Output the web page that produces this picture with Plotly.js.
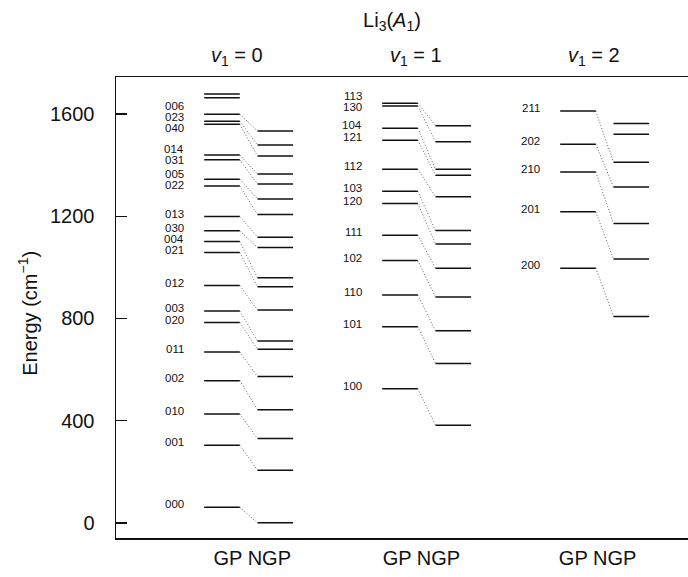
<!DOCTYPE html>
<html>
<head>
<meta charset="utf-8">
<script src="https://cdn.plot.ly/plotly-3.0.1.min.js"></script>
<style>html,body{margin:0;padding:0;background:#fff;}#chart{width:688px;height:577px;}</style>
</head>
<body>
<div id="chart"></div>
<script>
// ---- data (energies in cm^-1) ----
const groupNames = ['<i>v</i><sub>1</sub> = 0', '<i>v</i><sub>1</sub> = 1', '<i>v</i><sub>1</sub> = 2'];
const columnNames = ['GP', 'NGP'];

const gpV0 = [61, 303.5, 426, 556.5, 669, 784.5, 829, 929, 1058, 1101, 1143, 1199, 1319, 1345, 1421, 1440, 1560, 1572, 1600, 1664, 1679];
const ngpV0 = [0, 206, 330, 443, 573, 680, 712, 833, 924, 959, 1078, 1118.5, 1207, 1268, 1326.5, 1366, 1436, 1479, 1534];
const labelsV0 = ['000','001','010','002','011','020','003','012','021','004','030','013','022','005','031','014','040','023','006'];

const gpV1 = [525, 768, 892, 1027, 1126, 1250, 1298, 1384, 1498, 1545, 1632, 1642.5];
const ngpV1 = [382, 624, 752, 884, 997, 1092, 1144, 1277, 1361, 1384, 1492, 1555];
const labelsV1 = ['100','101','110','102','111','120','103','112','121','104','130','113'];

const gpV2 = [997, 1217.5, 1373, 1482, 1612];
const ngpV2 = [808, 1032.5, 1172, 1315, 1412, 1521, 1563];
const labelsV2 = ['200','201','210','202','211'];

const yTicks = [0, 400, 800, 1200, 1600];

// ---- build ----
const groups = [
  {gp: gpV0, ngp: ngpV0, labels: labelsV0},
  {gp: gpV1, ngp: ngpV1, labels: labelsV1},
  {gp: gpV2, ngp: ngpV2, labels: labelsV2}
];
const NGP_OFF = 0.2994, HALF = 0.1;
const FONT = 'Liberation Sans, Arial, Helvetica, sans-serif';

const traces = [];
const annotations = [];

function spreadLabels(ys, minGap) {
  const out = ys.slice();
  for (let it = 0; it < 300; it++) {
    let moved = false;
    for (let i = 0; i < out.length - 1; i++) {
      const gap = out[i + 1] - out[i];
      if (gap < minGap - 1e-6) {
        const d = (minGap - gap) / 2;
        out[i] -= d; out[i + 1] += d; moved = true;
      }
    }
    if (!moved) break;
  }
  return out;
}

groups.forEach((g, gi) => {
  const gx = gi, nx = gi + NGP_OFF;
  const n = Math.min(g.gp.length, g.ngp.length);
  const cx = [], cy = [];
  for (let i = 0; i < n; i++) {
    cx.push(gx + HALF, nx - HALF, null);
    cy.push(g.gp[i], g.ngp[i], null);
  }
  traces.push({x: cx, y: cy, mode: 'lines', type: 'scatter', hoverinfo: 'skip',
    line: {color: '#666', width: 1, dash: '1px,2px'}, showlegend: false});
  const gxs = [], gys = [];
  g.gp.forEach(e => { gxs.push(gx - HALF, gx + HALF, null); gys.push(e, e, null); });
  traces.push({x: gxs, y: gys, mode: 'lines', type: 'scatter', name: 'GP',
    line: {color: '#111', width: 1.5}, showlegend: false});
  const nxs = [], nys = [];
  g.ngp.forEach(e => { nxs.push(nx - HALF, nx + HALF, null); nys.push(e, e, null); });
  traces.push({x: nxs, y: nys, mode: 'lines', type: 'scatter', name: 'NGP',
    line: {color: '#111', width: 1.5}, showlegend: false});
  const targets = g.labels.map((l, i) => g.gp[i] + 11.5);
  const placed = spreadLabels(targets, 42);
  g.labels.forEach((l, i) => {
    annotations.push({x: gx - HALF, y: placed[i], xref: 'x', yref: 'y', text: l,
      showarrow: false, xanchor: 'right', yanchor: 'middle', xshift: -18,
      font: {family: FONT, size: 11.5, color: '#111'}});
  });
});

const headX = [0.084, 1.09, 2.09];
groupNames.forEach((t, i) => {
  annotations.push({x: headX[i], y: 1.044, xref: 'x', yref: 'paper', text: t,
    showarrow: false, xanchor: 'center', yanchor: 'middle',
    font: {family: FONT, size: 20, color: '#111'}});
});

annotations.push({x: -0.1538, y: 0.4865, xref: 'paper', yref: 'paper',
  text: 'Energy (cm<sup>−1</sup>)', textangle: -90, showarrow: false,
  xanchor: 'center', yanchor: 'middle', font: {family: FONT, size: 20, color: '#111'}});

const layout = {
  width: 688, height: 577,
  margin: {l: 116, r: 0, t: 77, b: 38.5, pad: 0},
  paper_bgcolor: '#fff', plot_bgcolor: '#fff',
  font: {family: FONT, color: '#111'},
  title: {text: 'Li<sub>3</sub>(<i>A</i><sub>1</sub>)', x: 392 / 688, xanchor: 'center',
    y: 1 - 20 / 577, yanchor: 'middle', font: {family: FONT, size: 20, color: '#111'}},
  xaxis: {range: [-0.5955, 2.618], showgrid: false, zeroline: false,
    showline: true, mirror: true, linecolor: '#111', linewidth: 1.5,
    tickvals: [0.17, 1.12, 2.11], ticktext: [0,1,2].map(() => columnNames.join(' ')),
    ticks: '', tickfont: {family: FONT, size: 20, color: '#111'}, ticklabelstandoff: 1,
    fixedrange: true},
  yaxis: {range: [-59.4, 1745.4], showgrid: false, zeroline: false,
    showline: true, mirror: false, linecolor: '#111', linewidth: 1.5,
    tickvals: yTicks, ticktext: yTicks.map(String), ticks: 'inside', ticklen: 11,
    tickcolor: '#111', tickwidth: 1.5, ticklabelstandoff: 16,
    tickfont: {family: FONT, size: 20, color: '#111'},
    fixedrange: true},
  annotations: annotations,
  showlegend: false
};

Plotly.newPlot('chart', traces, layout, {displayModeBar: false, staticPlot: true});
</script>
</body>
</html>
